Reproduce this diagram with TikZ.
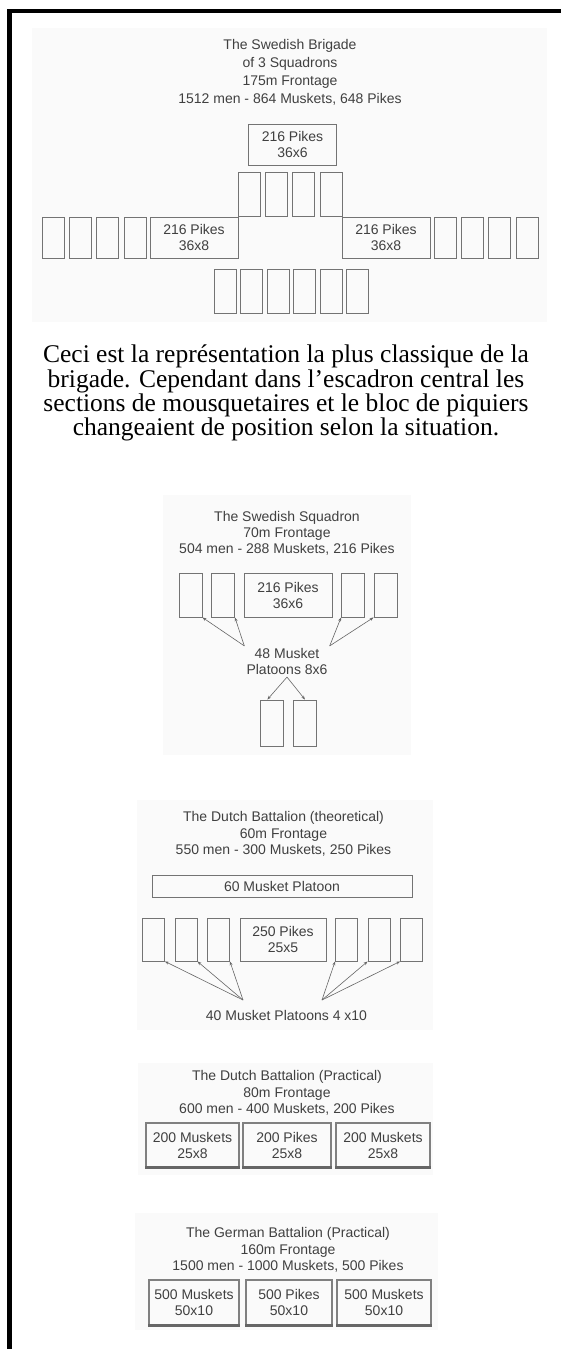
\documentclass[tikz,border=0pt]{standalone}
\usepackage{fontspec}
\setmainfont{Liberation Serif}
\setsansfont{Liberation Sans}
\usetikzlibrary{arrows.meta}

\tikzset{
  plan/.style={fill=black!2},
  caption/.style={font=\sffamily\fontsize{14}{16.5}\selectfont, text=black!75, align=center, inner sep=2pt},
  unit/.style={draw=black!55, line width=0.9pt, inner sep=0pt, text=black!75, align=center,
    font=\sffamily\fontsize{14}{16}\selectfont},
  platoon/.style={unit, minimum width=22pt, minimum height=44pt},
  block/.style={unit, minimum height=#1},
  battle/.style={unit, draw=black!50, line width=1.2pt, minimum height=44pt},
  arr/.style={->, draw=black!60, line width=0.6pt},
  note/.style={font=\fontsize{25.5}{23}\selectfont, align=center, inner sep=0pt}
}

\begin{document}
\begin{tikzpicture}[x=1pt,y=-1pt,>={Stealth[length=4pt,width=3pt]}]
  \useasboundingbox (0,0) rectangle (561,1349);
  \draw[line width=4.5pt] (9.5,1349) -- (9.5,11) -- (561,11);

  % the brigade
  \fill[plan] (32,28) rectangle (547,322);
  \node[caption, font=\sffamily\fontsize{14}{18}\selectfont] (brtitle) at (290,72)
    {The Swedish Brigade\\of 3 Squadrons\\175m Frontage\\1512 men - 864 Muskets, 648 Pikes};
  \node[block=41pt, minimum width=88pt] (brpk) at (292.5,144.5) {216 Pikes\\36x6};
  \foreach \x [count=\i] in {249,276.3,303.7,331}
    \node[platoon] (brc\i) at (\x,194) {};
  \node[block=41pt, minimum width=88pt] (brpl) at (194,237.5) {216 Pikes\\36x8};
  \node[block=41pt, minimum width=88pt] (brpr) at (386,237.5) {216 Pikes\\36x8};
  \foreach \x [count=\i] in {53,80.3,107.7,135,445,472.3,499.7,527}
    \node[platoon, minimum height=41pt] (brm\i) at (\x,237.5) {};
  \foreach \x [count=\i] in {225,251.5,278,304.5,331,357.5}
    \node[platoon] (brb\i) at (\x,291) {};

  \node[note] (note) at (286,393)
    {Ceci est la représentation la plus classique de la\\brigade. Cependant dans l’escadron central les\\sections de mousquetaires et le bloc de piquiers\\changeaient de position selon la situation.};

  % the squadron
  \fill[plan] (163,495) rectangle (411,755);
  \node[caption, font=\sffamily\fontsize{14}{16}\selectfont] (sqtitle) at (287,533)
    {The Swedish Squadron\\70m Frontage\\504 men - 288 Muskets, 216 Pikes};
  \foreach \x [count=\i] in {190.5,223,353,385.5}
    \node[platoon, minimum width=23pt] (sqm\i) at (\x,595) {};
  \node[block=44pt, minimum width=88pt] (sqpk) at (288,595) {216 Pikes\\36x6};
  \node[caption] (sqlbl) at (287,661.5) {48 Musket\\Platoons 8x6};
  \node[platoon, minimum width=23pt, minimum height=46pt] (sqb1) at (271.5,723) {};
  \node[platoon, minimum width=23pt, minimum height=46pt] (sqb2) at (305,723) {};
  \draw[arr] (sqlbl.north west) -- (sqm1.south east);
  \draw[arr] (sqlbl.north west) -- (sqm2.south east);
  \draw[arr] (sqlbl.north east) -- (sqm3.south west);
  \draw[arr] (sqlbl.north east) -- (sqm4.south west);
  \draw[arr] (sqlbl.south) -- (sqb1.100);
  \draw[arr] (sqlbl.south) -- (sqb2.north);

  % the dutch battalion, theoretical
  \fill[plan] (137,800) rectangle (433,1030);
  \node[caption] (dttitle) at (283.5,834)
    {The Dutch Battalion (theoretical)\\60m Frontage\\550 men - 300 Muskets, 250 Pikes};
  \node[block=22pt, minimum width=260pt] (dtfr) at (282,886) {60 Musket Platoon};
  \foreach \x [count=\i] in {153.5,186,218.5,346.5,379,411.5}
    \node[platoon, minimum height=43pt] (dtm\i) at (\x,939.5) {};
  \node[block=43pt, minimum width=86pt] (dtpk) at (283,939.5) {250 Pikes\\25x5};
  \node[caption] (dtlbl) at (286.5,1015) {40 Musket Platoons 4 x10};
  \coordinate (dtL) at (243,1000);
  \coordinate (dtR) at (322,1000);
  \foreach \i in {1,2,3}
    \draw[arr] (dtL) -- (dtm\i.south east);
  \foreach \i in {4,5,6}
    \draw[arr] (dtR) -- (dtm\i.south west);

  % the dutch battalion, practical
  \fill[plan] (138,1063) rectangle (433,1175);
  \node[caption] (dptitle) at (287,1093)
    {The Dutch Battalion (Practical)\\80m Frontage\\600 men - 400 Muskets, 200 Pikes};
  \node[battle, minimum width=93pt] (dp1) at (192.5,1145) {200 Muskets\\25x8};
  \node[battle, minimum width=88pt] (dp2) at (287,1145) {200 Pikes\\25x8};
  \node[battle, minimum width=94pt] (dp3) at (383,1145) {200 Muskets\\25x8};

  % the german battalion
  \fill[plan] (135,1213) rectangle (438,1330);
  \node[caption] (gbtitle) at (288,1250)
    {The German Battalion (Practical)\\160m Frontage\\1500 men - 1000 Muskets, 500 Pikes};
  \node[battle, minimum width=90pt, minimum height=45pt] (gb1) at (194,1302.5) {500 Muskets\\50x10};
  \node[battle, minimum width=86pt, minimum height=45pt] (gb2) at (289,1302.5) {500 Pikes\\50x10};
  \node[battle, minimum width=94pt, minimum height=45pt] (gb3) at (384,1302.5) {500 Muskets\\50x10};
  \foreach \n in {dp1,dp2,dp3,gb1,gb2,gb3}
    \draw[line width=2.5pt, black!60] (\n.south west) -- (\n.south east);
\end{tikzpicture}
\end{document}
